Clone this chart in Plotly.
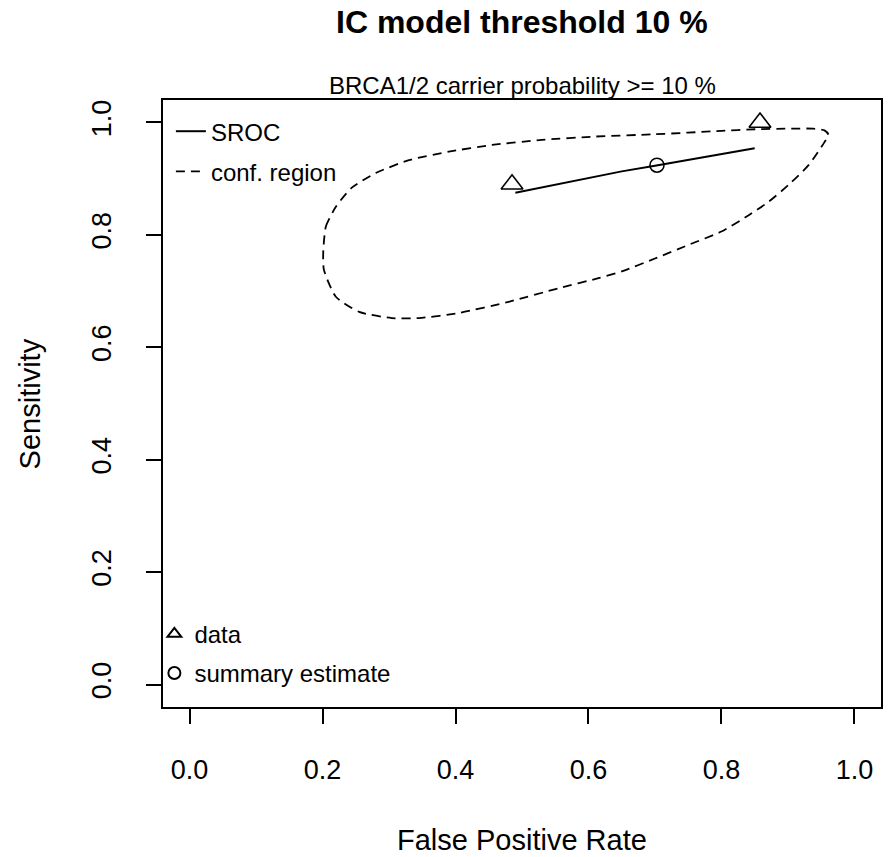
import plotly.graph_objects as go

# Observed study points (false positive rate, sensitivity)
data_fpr = [0.485, 0.858]
data_sens = [0.890, 1.000]

# Summary estimate
summary_fpr = [0.703]
summary_sens = [0.924]

# SROC curve over the observed FPR range
sroc_fpr = [0.49, 0.55, 0.60, 0.65, 0.70, 0.75, 0.80, 0.85]
sroc_sens = [0.875, 0.889, 0.902, 0.913, 0.923, 0.933, 0.944, 0.954]

# 95% confidence region around the summary estimate
conf_fpr = [0.201, 0.205, 0.220, 0.244, 0.280, 0.330, 0.390, 0.455, 0.530, 0.611,
            0.700, 0.800, 0.851, 0.901, 0.938, 0.955, 0.961, 0.955, 0.931, 0.901,
            0.871, 0.841, 0.800, 0.750, 0.700, 0.650, 0.615, 0.555, 0.480, 0.405,
            0.345, 0.304, 0.255, 0.220, 0.202, 0.201]
conf_sens = [0.768, 0.815, 0.850, 0.884, 0.910, 0.933, 0.948, 0.960, 0.969, 0.975,
             0.979, 0.985, 0.988, 0.989, 0.989, 0.986, 0.978, 0.965, 0.924, 0.889,
             0.859, 0.835, 0.806, 0.782, 0.758, 0.735, 0.723, 0.705, 0.681, 0.661,
             0.652, 0.652, 0.663, 0.690, 0.738, 0.768]

tick_vals = [0.0, 0.2, 0.4, 0.6, 0.8, 1.0]
tick_text = ["0.0", "0.2", "0.4", "0.6", "0.8", "1.0"]

FONT = "Liberation Sans, Arial, sans-serif"

fig = go.Figure()

fig.add_trace(go.Scatter(
    x=sroc_fpr, y=sroc_sens, mode="lines", name="SROC",
    line=dict(color="black", width=2), legend="legend", legendgroup="a",
))
fig.add_trace(go.Scatter(
    x=conf_fpr, y=conf_sens, mode="lines", name="conf. region",
    line=dict(color="black", width=1.8, dash="9px,6px", shape="spline", smoothing=0.6),
    legend="legend", legendgroup="b",
))
fig.add_trace(go.Scatter(
    x=data_fpr, y=data_sens, mode="markers", name="data",
    marker=dict(symbol="triangle-up-open", size=19, color="black", line=dict(width=1.6)),
    legend="legend2", legendgroup="c",
))
fig.add_trace(go.Scatter(
    x=summary_fpr, y=summary_sens, mode="markers", name="summary estimate",
    marker=dict(symbol="circle-open", size=14, color="black", line=dict(width=1.6)),
    legend="legend2", legendgroup="d",
))

axis_common = dict(
    range=[-0.04, 1.04], showgrid=False, zeroline=False,
    showline=True, linecolor="black", linewidth=2, mirror=True,
    ticks="outside", ticklen=15, tickwidth=2, tickcolor="black",
    tickvals=tick_vals, ticktext=tick_text,
    tickfont=dict(family=FONT, size=27, color="black"),
)

fig.update_layout(
    width=888, height=857,
    margin=dict(l=163, r=5, t=100, b=150),
    paper_bgcolor="white", plot_bgcolor="white",
    font=dict(family=FONT, color="black"),
    xaxis=dict(**axis_common, ticklabelstandoff=23),
    yaxis=dict(**axis_common, tickangle=-90, ticklabelstandoff=24),
    legend=dict(
        x=0.011, y=0.985, xanchor="left", yanchor="top",
        font=dict(family=FONT, size=24, color="black"),
        bgcolor="rgba(0,0,0,0)", tracegroupgap=6,
    ),
    legend2=dict(
        x=-0.012, y=0.157, xanchor="left", yanchor="top",
        font=dict(family=FONT, size=24, color="black"),
        bgcolor="rgba(0,0,0,0)", tracegroupgap=5, itemsizing="constant",
    ),
    showlegend=True,
    annotations=[
        dict(text="<b>IC model threshold 10 %</b>", x=0.5, y=1.1285, xref="paper", yref="paper",
             xanchor="center", yanchor="middle", showarrow=False,
             font=dict(family=FONT, size=32, color="black")),
        dict(text="BRCA1/2 carrier probability >= 10 %", x=0.5, y=1.0247, xref="paper", yref="paper",
             xanchor="center", yanchor="middle", showarrow=False,
             font=dict(family=FONT, size=24, color="black")),
        dict(text="False Positive Rate", x=0.5, y=-0.219, xref="paper", yref="paper",
             xanchor="center", yanchor="middle", showarrow=False,
             font=dict(family=FONT, size=29, color="black")),
        dict(text="Sensitivity", x=-0.1854, y=0.5, xref="paper", yref="paper",
             xanchor="center", yanchor="middle", showarrow=False, textangle=-90,
             font=dict(family=FONT, size=29, color="black")),
    ],
)

fig.write_html("out.html")
